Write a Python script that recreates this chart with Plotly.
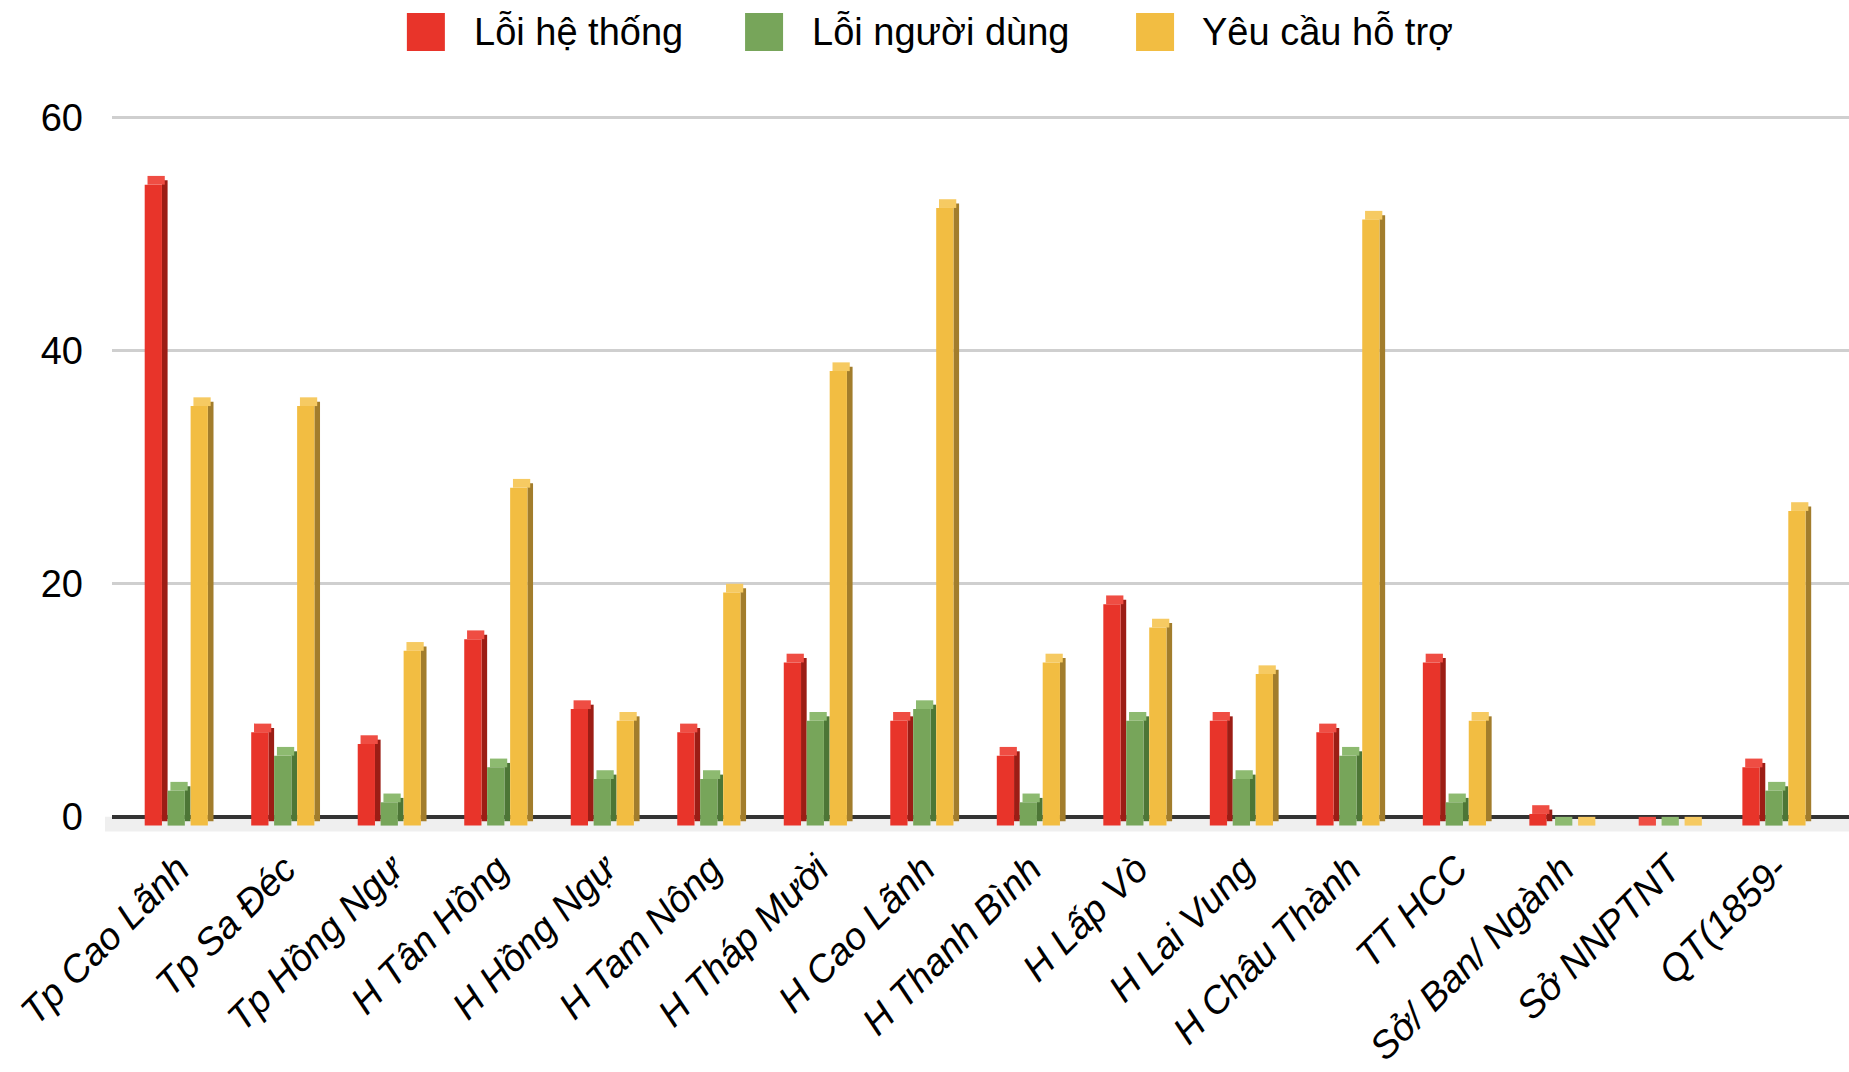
import plotly.graph_objects as go

categories = ["Tp Cao Lãnh", "Tp Sa Đéc", "Tp Hồng Ngự", "H Tân Hồng", "H Hồng Ngự",
              "H Tam Nông", "H Tháp Mười", "H Cao Lãnh", "H Thanh Bình", "H Lấp Vò",
              "H Lai Vung", "H Châu Thành", "TT HCC", "Sở/ Ban/ Ngành", "Sở NNPTNT",
              "QT(1859-"]
series_names = ["Lỗi hệ thống", "Lỗi người dùng", "Yêu cầu hỗ trợ"]
loi_he_thong = [55, 8, 7, 16, 10, 8, 14, 9, 6, 19, 9, 8, 14, 1, 0, 5]
loi_nguoi_dung = [3, 6, 2, 5, 4, 4, 9, 10, 2, 9, 4, 6, 2, 0, 0, 3]
yeu_cau_ho_tro = [36, 36, 15, 29, 9, 20, 39, 53, 14, 17, 13, 52, 9, 0, 0, 27]
y_ticks = [0, 20, 40, 60]

series_values = [loi_he_thong, loi_nguoi_dung, yeu_cau_ho_tro]
front_colors = ["#e8342a", "#77a55a", "#f2bd42"]
side_colors = ["#9c1d15", "#4d7636", "#a27d2c"]
top_colors = ["#ef4d43", "#8dba70", "#f6ca62"]
front_offsets = [-0.316, -0.101, 0.115]
FRONT_W = 0.162
SIDE_W = 0.053
DEPTH = 0.75

FONT = "Liberation Sans, Arial, sans-serif"

fig = go.Figure()
for i, vals in enumerate(series_values):
    off = front_offsets[i]
    # side face (darker)
    fig.add_trace(go.Bar(
        x=categories, y=vals, base=-DEPTH / 2,
        offset=off + FRONT_W, width=SIDE_W,
        marker=dict(color=side_colors[i], line=dict(width=0)),
        showlegend=False, hoverinfo="skip"))
    # top face (lighter)
    fig.add_trace(go.Bar(
        x=categories, y=[DEPTH] * len(vals), base=[v - DEPTH for v in vals],
        offset=off + SIDE_W / 2, width=FRONT_W,
        marker=dict(color=top_colors[i], line=dict(width=0)),
        showlegend=False, hoverinfo="skip"))
    # front face
    fig.add_trace(go.Bar(
        x=categories, y=vals, base=-DEPTH,
        offset=off, width=FRONT_W, name=series_names[i],
        marker=dict(color=front_colors[i], line=dict(width=0)),
        showlegend=False))

# floor
fig.add_shape(type="rect", xref="paper", yref="y", x0=-0.004, x1=1, y0=-1.25, y1=0,
              fillcolor="#efefef", line=dict(width=0), layer="below")

# legend row (keys + labels)
key_cx = [0.1807, 0.3754, 0.6005]
text_x = [0.2073, 0.4018, 0.6264]
KEY_W = 38 / 1737
KEY_H = 38 / 726
LEG_Y = 1.102
for i, name in enumerate(series_names):
    fig.add_shape(type="rect", xref="paper", yref="paper",
                  x0=key_cx[i] - KEY_W / 2, x1=key_cx[i] + KEY_W / 2,
                  y0=LEG_Y - KEY_H / 2, y1=LEG_Y + KEY_H / 2,
                  fillcolor=front_colors[i], line=dict(width=0))
    fig.add_annotation(
        xref="paper", yref="paper", x=text_x[i], y=LEG_Y,
        xanchor="left", yanchor="middle", showarrow=False, text=name,
        font=dict(family=FONT, size=38, color="#000000"))

fig.update_layout(
    width=1849, height=1072,
    margin=dict(l=112, r=0, t=106, b=240),
    paper_bgcolor="white", plot_bgcolor="white",
    barmode="overlay", showlegend=False,
    font=dict(family=FONT, color="#000000"),
    xaxis=dict(type="category", range=[-0.623, 15.685], tickangle=-45,
               tickfont=dict(family=FONT, size=38, style="italic", color="#000000"),
               showgrid=False, zeroline=False, showline=False, ticks="",
               ticklabelstandoff=6),
    yaxis=dict(range=[-1.3, 61], tickvals=y_ticks, showgrid=True,
               gridcolor="#cfcfcf", gridwidth=2.5,
               zeroline=True, zerolinecolor="#333333", zerolinewidth=3.5,
               tickfont=dict(family=FONT, size=38, color="#000000"),
               ticks="", ticklabelstandoff=28, showline=False),
)

fig.write_html("out.html", config={"displayModeBar": False},
               post_script="document.body.style.margin='0';")
